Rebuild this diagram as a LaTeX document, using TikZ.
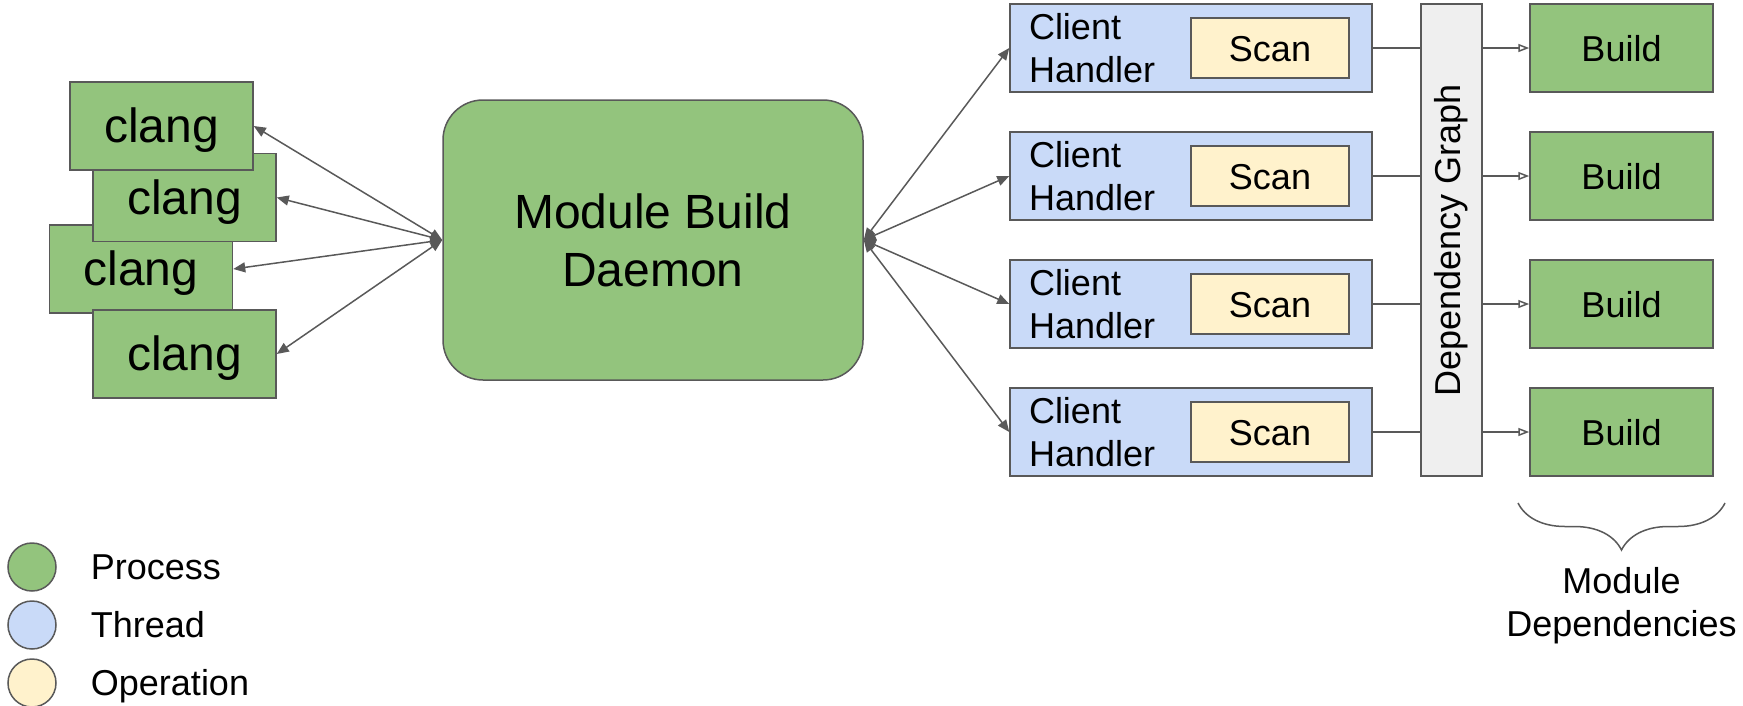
\documentclass[tikz,border=0pt]{standalone}
\usepackage{fontspec}
\setmainfont{Liberation Sans}
\usepackage{tikz}
\usetikzlibrary{positioning, arrows.meta, decorations.pathreplacing}

\definecolor{procgreen}{HTML}{93C47D}
\definecolor{threadblue}{HTML}{C9DAF8}
\definecolor{opyellow}{HTML}{FFF2CC}
\definecolor{graphgray}{HTML}{EFEFEF}
\definecolor{linegray}{HTML}{595959}

\begin{document}
\begin{tikzpicture}[x=1pt, y=-1pt,
        box/.style={draw=linegray, line width=1.5pt, inner sep=0pt},
        proc/.style={box, fill=procgreen,
            minimum width=183pt, minimum height=88pt,
            text height=34pt, text depth=7pt,
            font=\fontsize{36}{43}\selectfont},
        clang/.style={proc, text height=43pt, text depth=10pt,
            font=\fontsize{48}{58}\selectfont},
        thread/.style={box, fill=threadblue,
            minimum height=88pt, text width=324pt, inner xsep=19pt,
            align=left, font=\fontsize{36}{43}\selectfont},
        oper/.style={box, fill=opyellow,
            minimum width=158pt, minimum height=60pt,
            text height=34pt, text depth=7pt,
            font=\fontsize{36}{43}\selectfont},
        biarrow/.style={draw=linegray, line width=1.5pt,
            arrows={Triangle[length=12pt,width=10pt]-Triangle[length=12pt,width=10pt]}},
        link/.style={draw=linegray, line width=1.5pt},
        deparrow/.style={link,
            arrows={-Triangle[open,length=11pt,width=8pt,fill=white]}},
        legdot/.style={circle, draw=linegray, line width=1.5pt,
            minimum size=48pt, inner sep=0pt},
        legtext/.style={inner sep=0pt, text height=25pt, text depth=0pt,
            font=\fontsize{36}{43}\selectfont}]
    \useasboundingbox (0,0) rectangle (1743,705);

    % clang processes, stacked
    \node[clang] (c3) at (141,269) {clang};
    \node[clang] (c2) at (184.5,197.5) {clang};
    \node[clang] (c1) at (161.5,126) {clang};
    \node[clang] (c4) at (184.5,354) {clang};

    \node[box, fill=procgreen, rounded corners=40pt,
        minimum width=420pt, minimum height=280pt,
        align=center, font=\fontsize{48}{58}\selectfont]
        (daemon) at (653,240) {Module Build\\Daemon};

    \foreach \i in {1,...,4}
        \draw[biarrow] (daemon.west) -- (c\i.east);

    \node[box, fill=graphgray, minimum width=61pt, minimum height=472pt,
        font=\fontsize{36}{43}\selectfont]
        (dep) at (1451.5,240) {\rotatebox{90}{Dependency Graph}};

    \foreach \i/\y in {1/48, 2/176, 3/304, 4/432} {
        \node[thread] (ch\i) at (1191,\y) {Client\\Handler};
        \node[oper, left=23pt of ch\i.east] (scan\i) {Scan};
        \node[proc] (build\i) at (1621.5,\y) {Build};
        \draw[biarrow] (daemon.east) -- (ch\i.west);
        \draw[link] (ch\i.east) -- (ch\i.east -| dep.west);
        \draw[deparrow] (dep.east |- build\i.west) -- (build\i.west);
    }

    % brace under the builds
    \coordinate (bracer) at (1725,503);
    \coordinate (bracel) at (1518,503);
    \coordinate (bracetip) at (1621.5,550);
    \draw[link, decorate, decoration={brace, amplitude=47pt}]
        (bracer) -- (bracel);
    \node[inner sep=0pt, align=center, font=\fontsize{36}{43}\selectfont,
        below=17pt of bracetip] (moddeps) {Module\\Dependencies};

    % legend
    \node[legdot, fill=procgreen] (lproc) at (32,567) {};
    \node[legdot, fill=threadblue] (lthread) at (32,625) {};
    \node[legdot, fill=opyellow] (lop) at (32,683) {};
    \node[legtext, right=34pt of lproc] (tproc) {Process};
    \node[legtext, right=34pt of lthread] (tthread) {Thread};
    \node[legtext, right=34pt of lop] (top) {Operation};
\end{tikzpicture}
\end{document}
